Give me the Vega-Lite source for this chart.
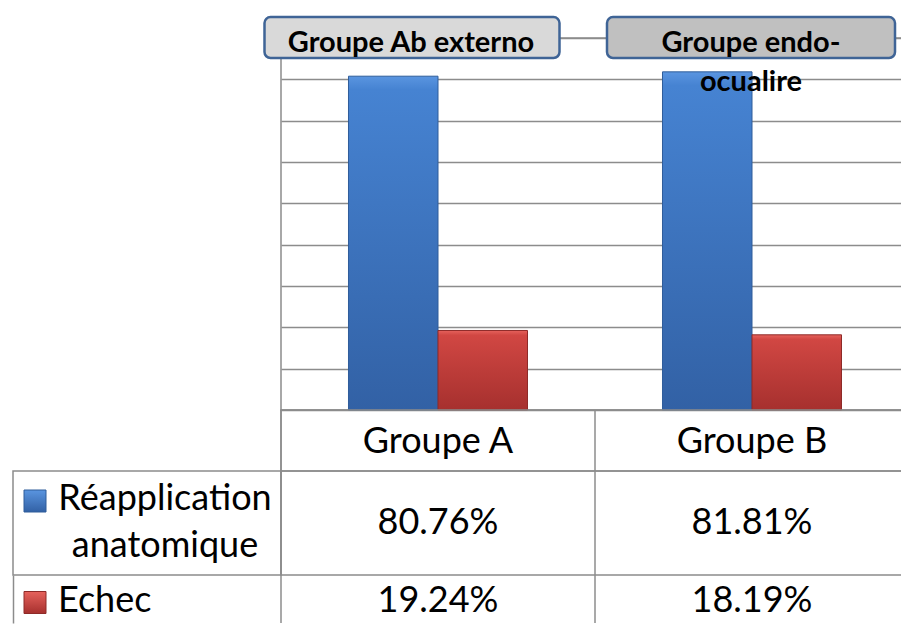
{
  "$schema": "https://vega.github.io/schema/vega-lite/v6.json",
  "padding": {"left": 12, "top": 15, "right": 0, "bottom": 0},
  "spacing": 0,
  "columns": 2,
  "bounds": "flush",
  "config": {
    "font": "Lato",
    "view": {"stroke": "#8c8c8c", "strokeWidth": 1.5},
    "axis": {"minExtent": 0, "maxExtent": 0}
  },
  "datasets": {
    "d": [
      {"group": "Groupe A", "series": "Réapplication anatomique", "value": 0.8076},
      {"group": "Groupe A", "series": "Echec", "value": 0.1924},
      {"group": "Groupe B", "series": "Réapplication anatomique", "value": 0.8181},
      {"group": "Groupe B", "series": "Echec", "value": 0.1819}
    ],
    "notes": [
      {"group": "Groupe A", "label": "Groupe Ab externo"},
      {"group": "Groupe B", "label": "Groupe endo-\nocualire"}
    ]
  },
  "concat": [
    {
      "width": 268, "height": 372,
      "view": {"stroke": null},
      "data": {"values": []},
      "mark": {"type": "text", "text": ""}
    },
    {
      "width": 621, "height": 372,
      "view": {"stroke": "#8c8c8c", "strokeWidth": 1.5},
      "layer": [
        {
          "data": {"name": "d"},
          "transform": [{"filter": "datum.series === 'Réapplication anatomique'"}],
          "mark": {
            "type": "bar",
            "color": {"gradient": "linear", "x1": 0, "y1": 0, "x2": 0, "y2": 1,
              "stops": [{"offset": 0, "color": "#5a95e0"}, {"offset": 0.04, "color": "#4683d2"}, {"offset": 1, "color": "#3261a5"}]},
            "stroke": "#2f5d9a", "strokeWidth": 1
          },
          "encoding": {
            "x": {"field": "group", "type": "nominal", "scale": {"domain": ["Groupe A", "Groupe B"], "range": [0, 628], "paddingInner": 0, "paddingOuter": 0}, "axis": null},
            "xOffset": {"field": "series", "type": "nominal", "scale": {"domain": ["Réapplication anatomique", "Echec"], "paddingInner": 0, "paddingOuter": 0.754}},
            "y": {"field": "value", "type": "quantitative", "scale": {"domain": [0, 0.9], "nice": false},
              "axis": {"values": [0, 0.1, 0.2, 0.3, 0.4, 0.5, 0.6, 0.7, 0.8, 0.9], "grid": true, "gridColor": "#8c8c8c", "gridWidth": 1.5, "labels": false, "ticks": false, "domain": false, "title": null}}
          }
        },
        {
          "data": {"name": "d"},
          "transform": [{"filter": "datum.series === 'Echec'"}],
          "mark": {
            "type": "bar",
            "color": {"gradient": "linear", "x1": 0, "y1": 0, "x2": 0, "y2": 1,
              "stops": [{"offset": 0, "color": "#e6625c"}, {"offset": 0.06, "color": "#d14743"}, {"offset": 1, "color": "#a6302e"}]},
            "stroke": "#8e2a28", "strokeWidth": 1
          },
          "encoding": {
            "x": {"field": "group", "type": "nominal", "axis": null},
            "xOffset": {"field": "series", "type": "nominal"},
            "y": {"field": "value", "type": "quantitative"}
          }
        },
        {
          "data": {"name": "notes"},
          "transform": [{"filter": "datum.group === 'Groupe A'"}],
          "mark": {"type": "bar", "width": 295, "xOffset": -26, "fill": "#d9d9d9", "stroke": "#3f6496", "strokeWidth": 2.5, "cornerRadius": 6},
          "encoding": {
            "x": {"field": "group", "type": "nominal", "axis": null},
            "y": {"datum": 0.9508},
            "y2": {"datum": 0.8516}
          }
        },
        {
          "data": {"name": "notes"},
          "transform": [{"filter": "datum.group === 'Groupe B'"}],
          "mark": {"type": "bar", "width": 288, "xOffset": -1, "fill": "#c0c0c0", "stroke": "#3f6496", "strokeWidth": 2.5, "cornerRadius": 6},
          "encoding": {
            "x": {"field": "group", "type": "nominal", "axis": null},
            "y": {"datum": 0.9508},
            "y2": {"datum": 0.8516}
          }
        },
        {
          "data": {"name": "notes"},
          "transform": [{"filter": "datum.group === 'Groupe A'"}],
          "mark": {"type": "text", "fontSize": 29, "fontWeight": "bold", "color": "#000000", "baseline": "alphabetic", "dx": -27},
          "encoding": {
            "x": {"field": "group", "type": "nominal", "axis": null},
            "y": {"datum": 0.8661},
            "text": {"field": "label"}
          }
        },
        {
          "data": {"name": "notes"},
          "transform": [{"filter": "datum.group === 'Groupe B'"}],
          "mark": {"type": "text", "fontSize": 29, "fontWeight": "bold", "color": "#000000", "baseline": "alphabetic", "lineBreak": "\n", "lineHeight": 38.5, "dx": -1},
          "encoding": {
            "x": {"field": "group", "type": "nominal", "axis": null},
            "y": {"datum": 0.8661},
            "text": {"field": "label"}
          }
        }
      ]
    },
    {
      "width": 268, "height": 61,
      "view": {"stroke": null},
      "data": {"values": []},
      "mark": {"type": "text", "text": ""}
    },
    {
      "width": 621, "height": 61,
      "view": {"stroke": "#8c8c8c", "strokeWidth": 1.5},
      "data": {"name": "d"},
      "transform": [{"filter": "datum.series === 'Echec'"}],
      "encoding": {
        "x": {"field": "group", "type": "nominal", "bandPosition": 0, "scale": {"domain": ["Groupe A", "Groupe B"], "range": [0, 628], "paddingInner": 0, "paddingOuter": 0}, "axis": null}
      },
      "layer": [
        {"mark": {"type": "rule", "color": "#8c8c8c", "strokeWidth": 1.5}},
        {
          "mark": {"type": "text", "fontSize": 36, "color": "#000000", "baseline": "alphabetic", "dy": 12},
          "encoding": {
            "x": {"field": "group", "type": "nominal", "bandPosition": 0.5},
            "text": {"field": "group"}
          }
        }
      ]
    },
    {
      "width": 268, "height": 104,
      "view": {"stroke": "#8c8c8c", "strokeWidth": 1.5},
      "data": {"name": "d"},
      "transform": [{"filter": "datum.series === 'Réapplication anatomique' && datum.group === 'Groupe A'"}],
      "layer": [
        {
          "mark": {"type": "point", "shape": "square", "size": 484, "filled": true, "opacity": 1,
            "color": {"gradient": "linear", "x1": 0, "y1": 0, "x2": 0, "y2": 1,
              "stops": [{"offset": 0, "color": "#5a95e0"}, {"offset": 1, "color": "#3261a5"}]},
            "stroke": "#2f5d9a", "strokeWidth": 1, "xOffset": -112, "yOffset": -22},
          "encoding": {}
        },
        {
          "mark": {"type": "text", "fontSize": 36, "color": "#000000", "align": "center", "baseline": "alphabetic", "lineBreak": " ", "lineHeight": 47, "dx": 18, "dy": -13},
          "encoding": {"text": {"field": "series"}}
        }
      ]
    },
    {
      "width": 621, "height": 104,
      "view": {"stroke": "#8c8c8c", "strokeWidth": 1.5},
      "data": {"name": "d"},
      "transform": [{"filter": "datum.series === 'Réapplication anatomique'"}],
      "encoding": {
        "x": {"field": "group", "type": "nominal", "bandPosition": 0, "scale": {"domain": ["Groupe A", "Groupe B"], "range": [0, 628], "paddingInner": 0, "paddingOuter": 0}, "axis": null}
      },
      "layer": [
        {"mark": {"type": "rule", "color": "#8c8c8c", "strokeWidth": 1.5}},
        {
          "mark": {"type": "text", "fontSize": 36, "color": "#000000", "baseline": "alphabetic", "dy": 11},
          "encoding": {
            "x": {"field": "group", "type": "nominal", "bandPosition": 0.5},
            "text": {"field": "value", "type": "quantitative", "format": ".2%"}
          }
        }
      ]
    },
    {
      "width": 268, "height": 48,
      "view": {"stroke": null},
      "data": {"name": "d"},
      "transform": [{"filter": "datum.series === 'Echec' && datum.group === 'Groupe A'"}],
      "layer": [
        {
          "mark": {"type": "point", "shape": "square", "size": 484, "filled": true, "opacity": 1,
            "color": {"gradient": "linear", "x1": 0, "y1": 0, "x2": 0, "y2": 1,
              "stops": [{"offset": 0, "color": "#e6625c"}, {"offset": 1, "color": "#a6302e"}]},
            "stroke": "#8e2a28", "strokeWidth": 1, "xOffset": -112, "yOffset": 3.5},
          "encoding": {
            "y": {"field": "series", "type": "nominal", "scale": {"padding": 0.5},
              "axis": {"orient": "left", "domain": true, "domainColor": "#8c8c8c", "domainWidth": 1.5, "labels": false, "ticks": false, "grid": false, "title": null}}
          }
        },
        {
          "mark": {"type": "text", "fontSize": 36, "color": "#000000", "align": "left", "baseline": "alphabetic", "dx": -89, "dy": 13},
          "encoding": {
            "y": {"field": "series", "type": "nominal"},
            "text": {"field": "series"}
          }
        }
      ]
    },
    {
      "width": 621, "height": 48,
      "view": {"stroke": null},
      "data": {"name": "d"},
      "transform": [{"filter": "datum.series === 'Echec'"}],
      "encoding": {
        "x": {"field": "group", "type": "nominal", "bandPosition": 0, "scale": {"domain": ["Groupe A", "Groupe B"], "range": [0, 628], "paddingInner": 0, "paddingOuter": 0}, "axis": null}
      },
      "layer": [
        {"mark": {"type": "rule", "color": "#8c8c8c", "strokeWidth": 1.5}},
        {
          "mark": {"type": "text", "fontSize": 36, "color": "#000000", "baseline": "alphabetic", "dy": 13},
          "encoding": {
            "x": {"field": "group", "type": "nominal", "bandPosition": 0.5},
            "text": {"field": "value", "type": "quantitative", "format": ".2%"}
          }
        }
      ]
    }
  ]
}
